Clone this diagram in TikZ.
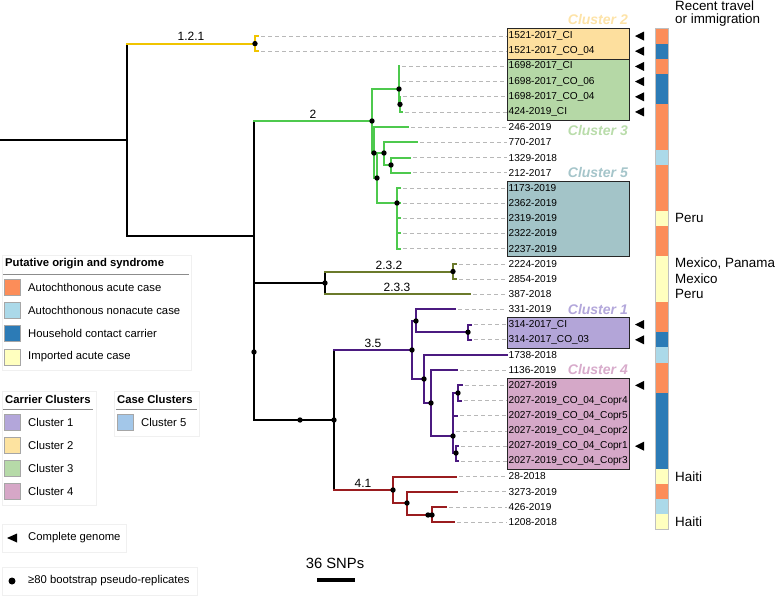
\documentclass[tikz,border=0pt]{standalone}
\usepackage{fontspec}
\setmainfont{Liberation Sans}
\definecolor{cOr}{HTML}{FC8D59}
\definecolor{cLb}{HTML}{ABD9E9}
\definecolor{cDb}{HTML}{2C7BB6}
\definecolor{cYe}{HTML}{FFFFBF}
\definecolor{bYel}{HTML}{F0C400}
\definecolor{bGrn}{HTML}{4DC94D}
\definecolor{bOli}{HTML}{6B7A2B}
\definecolor{bPur}{HTML}{4B1A80}
\definecolor{bRed}{HTML}{9A1C1F}
\definecolor{k1}{HTML}{B3A6DA}
\definecolor{k2}{HTML}{FDE3A0}
\definecolor{k3}{HTML}{B6DAA8}
\definecolor{k4}{HTML}{D6A7C7}
\definecolor{k5}{HTML}{A3C7E9}
\definecolor{f1}{HTML}{B3A5D8}
\definecolor{f2}{HTML}{FDDF9E}
\definecolor{f3}{HTML}{B5D8A6}
\definecolor{f4}{HTML}{D5A8C8}
\definecolor{f5}{HTML}{A3C4C8}
\definecolor{l1}{HTML}{B3A7DB}
\definecolor{l2}{HTML}{FDE3A8}
\definecolor{l3}{HTML}{B9DCAA}
\definecolor{l4}{HTML}{D8ABCB}
\definecolor{l5}{HTML}{A5C5CA}
\newcommand{\clade}[4]{\draw[#1] (#3) -- (#3 |- #4); \draw[#2] (#3 |- #4) -- (#4);}
\begin{document}
\begin{tikzpicture}[x=1pt,y=-1pt,
  tree/.style={line width=2pt, line cap=rect},
  tb/.style={tree, black},
  tthick/.style={line width=2.6pt, black},
  tyel/.style={tree, bYel},
  tgrn/.style={tree, bGrn},
  toli/.style={tree, bOli},
  tpur/.style={tree, bPur},
  tred/.style={tree, bRed},
  dsh/.style={draw=black!28, dash pattern=on 3.5pt off 3.5pt, line width=0.7pt},
  tipf/.style={anchor=west, inner sep=1.5pt, font=\fontsize{10.1}{12}\selectfont},
  blab/.style={anchor=south, inner sep=1pt, font=\fontsize{12}{14}\selectfont},
  clab/.style={anchor=east, inner sep=1pt, font=\fontsize{14}{16}\selectfont\bfseries\itshape},
  rlab/.style={anchor=west, inner sep=1pt, font=\fontsize{13.4}{16}\selectfont},
  legt/.style={anchor=west, inner sep=1pt, font=\fontsize{11.3}{13}\selectfont},
  legh/.style={anchor=west, inner sep=1pt, font=\fontsize{11.3}{13}\selectfont\bfseries},
  cbox/.style={draw=black!85, line width=1pt},
  swatch/.style={draw=black!35, line width=0.5pt},
  panel/.style={draw=black!6, fill=white, line width=0.6pt}
]
\useasboundingbox (0,0) rectangle (777,595);

% ---------- cluster boxes ----------
\filldraw[cbox, fill=f2] (507,28.5) rectangle (629,59);
\filldraw[cbox, fill=f3] (507,59) rectangle (629,120);
\filldraw[cbox, fill=f5] (507,181) rectangle (629,256.5);
\filldraw[cbox, fill=f1] (507,317) rectangle (629,348);
\filldraw[cbox, fill=f4] (507,378) rectangle (629,469);

% ---------- tip labels ----------
\foreach \lab [count=\i] in {1521-2017\_CI,1521-2017\_CO\_04,1698-2017\_CI,1698-2017\_CO\_06,1698-2017\_CO\_04,424-2019\_CI,246-2019,770-2017,1329-2018,212-2017,1173-2019,2362-2019,2319-2019,2322-2019,2237-2019,2224-2019,2854-2019,387-2018,331-2019,314-2017\_CI,314-2017\_CO\_03,1738-2018,1136-2019,2027-2019,2027-2019\_CO\_04\_Copr4,2027-2019\_CO\_04\_Copr5,2027-2019\_CO\_04\_Copr2,2027-2019\_CO\_04\_Copr1,2027-2019\_CO\_04\_Copr3,28-2018,3273-2019,426-2019,1208-2018}
  \node[tipf] (t\i) at (507,{36+15.19*(\i-1)}) {\lab};

% ---------- tip end coordinates ----------
\foreach \xx [count=\i] in {258,258,399,399,400,402,408,417,410,410,400,400,400,400,400,456,456,470,455,471,471,507,457,462,461,457,453,458,458,456,457,446,454}
  \coordinate (e\i) at (\xx,{36+15.19*(\i-1)});

% ---------- dashed leaders ----------
\foreach \i in {1,...,21,23,24,...,33}
  \draw[dsh] ([xshift=3pt]e\i) -- (t\i.west);

% ---------- internal nodes ----------
\coordinate (R) at (0,140);
\coordinate (N0) at (127,140);
\coordinate (Y1) at (255,43.6);
\coordinate (NA) at (254,236);
\coordinate (G0) at (372,121);
\coordinate (G1) at (399,89);
\coordinate (G1b) at (400,104.4);
\coordinate (G2) at (374,153);
\coordinate (G3) at (377,178);
\coordinate (G4) at (384,153);
\coordinate (G6) at (391,165);
\coordinate (G5) at (397,203);
\coordinate (NB) at (254,352);
\coordinate (O0) at (325,283);
\coordinate (O1) at (453,271.5);
\coordinate (NC) at (334,420);
\coordinate (NX) at (300,420);
\coordinate (P0) at (412,350);
\coordinate (P1) at (416,321);
\coordinate (P2) at (468,332.2);
\coordinate (P3) at (424,379);
\coordinate (P4) at (431,403);
\coordinate (P5) at (453,436);
\coordinate (P6) at (458,393);
\coordinate (P7) at (456,453);
\coordinate (R0) at (393,490);
\coordinate (R1) at (407,503);
\coordinate (R2) at (432,515);
\coordinate (RX) at (428,515);

% ---------- tree ----------
\draw[tb] (R) -- (N0);
\clade{tb}{tyel}{N0}{Y1}
\clade{tb}{tb}{N0}{NA}
\clade{tyel}{tyel}{Y1}{e1}
\clade{tyel}{tyel}{Y1}{e2}
\clade{tb}{tgrn}{NA}{G0}
\clade{tb}{tb}{NA}{NB}
% green clade
\clade{tgrn}{tgrn}{G0}{G1}
\clade{tgrn}{tgrn}{G0}{G2}
\clade{tgrn}{tgrn}{G1}{e3}
\clade{tgrn}{tgrn}{G1}{e4}
\clade{tgrn}{tgrn}{G1}{G1b}
\clade{tgrn}{tgrn}{G1b}{e5}
\clade{tgrn}{tgrn}{G1b}{e6}
\clade{tgrn}{tgrn}{G2}{e7}
\clade{tgrn}{tgrn}{G2}{G3}
\clade{tgrn}{tgrn}{G3}{G4}
\clade{tgrn}{tgrn}{G3}{G5}
\clade{tgrn}{tgrn}{G4}{e8}
\clade{tgrn}{tgrn}{G4}{G6}
\clade{tgrn}{tgrn}{G6}{e9}
\clade{tgrn}{tgrn}{G6}{e10}
\foreach \i in {11,...,15} {\clade{tgrn}{tgrn}{G5}{e\i}}
% 2.3 clade
\clade{tthick}{tb}{NB}{O0}
\clade{tthick}{tb}{NB}{NC}
\clade{tb}{toli}{O0}{O1}
\clade{tb}{toli}{O0}{e18}
\clade{toli}{toli}{O1}{e16}
\clade{toli}{toli}{O1}{e17}
% 3.5 clade
\clade{tb}{tpur}{NC}{P0}
\clade{tpur}{tpur}{P0}{P1}
\clade{tpur}{tpur}{P0}{P3}
\clade{tpur}{tpur}{P1}{e19}
\clade{tpur}{tpur}{P1}{P2}
\clade{tpur}{tpur}{P2}{e20}
\clade{tpur}{tpur}{P2}{e21}
\clade{tpur}{tpur}{P3}{e22}
\clade{tpur}{tpur}{P3}{P4}
\clade{tpur}{tpur}{P4}{e23}
\clade{tpur}{tpur}{P4}{P5}
\clade{tpur}{tpur}{P5}{P6}
\clade{tpur}{tpur}{P5}{e26}
\clade{tpur}{tpur}{P5}{e27}
\clade{tpur}{tpur}{P5}{P7}
\clade{tpur}{tpur}{P6}{e24}
\clade{tpur}{tpur}{P6}{e25}
\clade{tpur}{tpur}{P7}{e28}
\clade{tpur}{tpur}{P7}{e29}
% 4.1 clade
\clade{tb}{tred}{NC}{R0}
\clade{tred}{tred}{R0}{e30}
\clade{tred}{tred}{R0}{R1}
\clade{tred}{tred}{R1}{e31}
\clade{tred}{tred}{R1}{R2}
\clade{tred}{tred}{R2}{e32}
\clade{tred}{tred}{R2}{e33}

% ---------- bootstrap dots ----------
\foreach \n in {Y1,G0,G1,G1b,G2,G3,G4,G5,G6,NB,O0,O1,NX,NC,P0,P1,P2,P3,P4,P5,P6,P7,R0,R1,R2,RX}
  \fill (\n) circle (2.7pt);

% ---------- branch labels ----------
\node[blab] (l121) at (191,42) {1.2.1};
\node[blab] (l2) at (313,120) {2};
\node[blab] (l232) at (389,270.5) {2.3.2};
\node[blab] (l233) at (397,293) {2.3.3};
\node[blab] (l35) at (373,349) {3.5};
\node[blab] (l41) at (363,489) {4.1};

% ---------- cluster labels ----------
\node[clab, text=l2] (c2) at (629,19) {Cluster 2};
\node[clab, text=l3] (c3) at (629,130) {Cluster 3};
\node[clab, text=l5] (c5) at (629,172) {Cluster 5};
\node[clab, text=l1] (c1) at (629,309) {Cluster 1};
\node[clab, text=l4] (c4) at (629,369.5) {Cluster 4};

% ---------- complete genome triangles ----------
\foreach \i in {1,2,3,4,5,6,20,21,24,28} {
  \pgfmathsetmacro\yy{36+15.19*(\i-1)}
  \fill (644,\yy-4.5) -- (635,\yy) -- (644,\yy+4.5) -- cycle;
}

% ---------- colour bar ----------
\foreach \c [count=\i] in {cOr,cDb,cOr,cDb,cDb,cOr,cOr,cOr,cLb,cOr,cOr,cOr,cYe,cOr,cOr,cYe,cYe,cYe,cOr,cOr,cDb,cLb,cOr,cOr,cDb,cDb,cDb,cDb,cDb,cYe,cOr,cLb,cYe}
  \fill[\c] (655,{28.4+15.19*(\i-1)}) rectangle (668,{28.4+15.19*\i});
\draw[black!25, line width=0.5pt] (655,28.4) rectangle (668,529.6);

% ---------- right-hand texts ----------
\node[rlab] (rt1) at (674,6) {Recent travel};
\node[rlab] (rt2) at (674,20) {or immigration};
\node[rlab] (r13) at (674,218.3) {Peru};
\node[rlab] (r16) at (674,263.9) {Mexico, Panama};
\node[rlab] (r17) at (674,279) {Mexico};
\node[rlab] (r18) at (674,294.2) {Peru};
\node[rlab] (r30) at (674,476.5) {Haiti};
\node[rlab] (r33) at (674,522.1) {Haiti};

% ---------- legend: putative origin ----------
\filldraw[panel] (2,255) rectangle (191,370);
\node[legh] (h1) at (4,264) {Putative origin and syndrome};
\draw[black!45, line width=0.8pt] (3,274) -- (189,274);
\filldraw[swatch, fill=cOr] (4,279) rectangle (20,295);
\node[legt] (a1) at (27,287) {Autochthonous acute case};
\filldraw[swatch, fill=cLb] (4,302) rectangle (20,318);
\node[legt] (a2) at (27,310) {Autochthonous nonacute case};
\filldraw[swatch, fill=cDb] (4,325) rectangle (20,341);
\node[legt] (a3) at (27,333) {Household contact carrier};
\filldraw[swatch, fill=cYe] (4,349) rectangle (20,365);
\node[legt] (a4) at (27,357) {Imported acute case};

% ---------- legend: carrier clusters ----------
\filldraw[panel] (2,391) rectangle (96,505);
\node[legh] (h2) at (4,399) {Carrier Clusters};
\draw[black!45, line width=0.8pt] (3,409) -- (93,409);
\filldraw[swatch, fill=k1] (4,414) rectangle (20,430);
\node[legt] (b1) at (27,422) {Cluster 1};
\filldraw[swatch, fill=k2] (4,437) rectangle (20,453);
\node[legt] (b2) at (27,445) {Cluster 2};
\filldraw[swatch, fill=k3] (4,460) rectangle (20,476);
\node[legt] (b3) at (27,468) {Cluster 3};
\filldraw[swatch, fill=k4] (4,483) rectangle (20,499);
\node[legt] (b4) at (27,491) {Cluster 4};

% ---------- legend: case clusters ----------
\filldraw[panel] (114,391) rectangle (199,436);
\node[legh] (h3) at (116,399) {Case Clusters};
\draw[black!45, line width=0.8pt] (116,409) -- (197,409);
\filldraw[swatch, fill=k5] (117,414) rectangle (133,430);
\node[legt] (b5) at (140,422) {Cluster 5};

% ---------- legend: symbols ----------
\filldraw[panel] (2,524) rectangle (126,552);
\fill (17,533.5) -- (7,538) -- (17,542.5) -- cycle;
\node[legt] (s1) at (27,538) {Complete genome};
\filldraw[panel] (2,567) rectangle (197,595);
\fill (12,581) circle (3.5pt);
\node[legt] (s2) at (27,581) {≥80 bootstrap pseudo-replicates};

% ---------- scale bar ----------
\node[font=\fontsize{14.8}{17}\selectfont, inner sep=1pt] (sc) at (335,563) {36 SNPs};
\draw[line width=4pt] (317,580) -- (355,580);
\end{tikzpicture}
\end{document}
